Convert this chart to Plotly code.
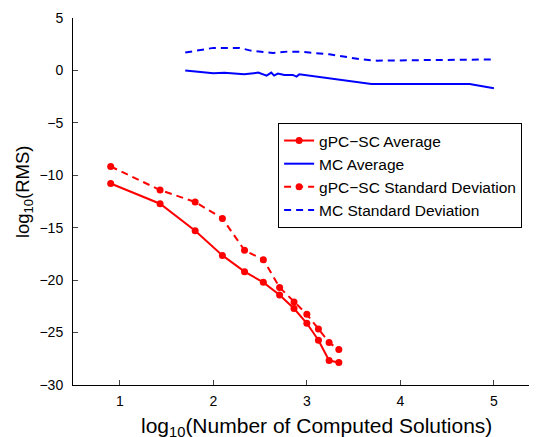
import plotly.graph_objects as go

# gPC-SC data (x = log10 of number of computed solutions)
gpc_x = [0.903, 1.431, 1.806, 2.097, 2.334, 2.535, 2.709, 2.863, 3.0, 3.124, 3.238, 3.342]
gpc_avg = [-10.78, -12.71, -15.29, -17.64, -19.19, -20.21, -21.41, -22.71, -24.11, -25.73, -27.67, -27.86]
gpc_std = [-9.16, -11.41, -12.55, -14.11, -17.16, -18.05, -20.69, -22.08, -23.26, -24.65, -25.95, -26.62]

# Monte Carlo data
mc_avg_x = [1.70, 2.0, 2.12, 2.33, 2.48, 2.53, 2.57, 2.62, 2.65, 2.69, 2.76, 2.85, 2.89, 2.92, 3.1, 3.69, 4.74, 5.0]
mc_avg = [0.0, -0.27, -0.23, -0.37, -0.21, -0.37, -0.49, -0.21, -0.49, -0.30, -0.43, -0.43, -0.59, -0.37, -0.6, -1.29, -1.29, -1.7]
mc_std_x = [1.70, 2.0, 2.28, 2.4, 2.64, 2.8, 2.96, 3.24, 3.57, 3.75, 4.1, 5.0]
mc_std = [1.70, 2.15, 2.15, 1.89, 1.67, 1.80, 1.76, 1.54, 1.07, 0.93, 0.97, 1.05]

x_ticks = [1, 2, 3, 4, 5]
y_ticks = [-30, -25, -20, -15, -10, -5, 0, 5]
x_title = "log<sub>10</sub>(Number of Computed Solutions)"
y_title = "log<sub>10</sub>(RMS)"

RED = "#ff0000"
BLUE = "#0000ff"
FONT = "Liberation Sans, Arial, Helvetica, sans-serif"

fig = go.Figure()
fig.add_trace(go.Scatter(x=gpc_x, y=gpc_avg, mode="lines+markers", name="gPC\u2212SC Average",
                         line=dict(color=RED, width=2), marker=dict(color=RED, size=7), legendgroup="a"))
fig.add_trace(go.Scatter(x=mc_avg_x, y=mc_avg, mode="lines", name="MC Average",
                         line=dict(color=BLUE, width=2), legendgroup="b"))
fig.add_trace(go.Scatter(x=gpc_x, y=gpc_std, mode="lines+markers", name="gPC\u2212SC Standard Deviation",
                         line=dict(color=RED, width=2, dash="7px,5px"), marker=dict(color=RED, size=7), legendgroup="c"))
fig.add_trace(go.Scatter(x=mc_std_x, y=mc_std, mode="lines", name="MC Standard Deviation",
                         line=dict(color=BLUE, width=2, dash="7px,5px"), legendgroup="d"))

# the page body has a default 8px margin, so the figure is sized 8px smaller
fig.update_layout(
    width=529, height=429,
    margin=dict(l=65, r=1, t=10, b=52),
    paper_bgcolor="white", plot_bgcolor="white",
    font=dict(family=FONT, size=14, color="black"),
    showlegend=True,
    legend=dict(x=0.443, y=0.714, xanchor="left", yanchor="top",
                bordercolor="black", borderwidth=1, bgcolor="white",
                font=dict(size=15.5), traceorder="grouped", tracegroupgap=0),
    xaxis=dict(range=[0.5, 5.45], tickvals=x_ticks, ticks="inside", ticklen=5, automargin=False,
               showline=True, linecolor="black", linewidth=1, showgrid=False, zeroline=False,
               ticklabelstandoff=3),
    yaxis=dict(range=[-30, 5], tickvals=y_ticks, ticks="inside", ticklen=5, automargin=False,
               showline=True, linecolor="black", linewidth=1, showgrid=False, zeroline=False,
               ticklabelstandoff=6),
    annotations=[
        dict(text=x_title, xref="paper", yref="paper", x=0.526, y=0, xanchor="center", yanchor="top",
             yshift=-27, showarrow=False, font=dict(size=21)),
        dict(text=y_title, xref="paper", yref="paper", x=0, y=0.527, xanchor="center", yanchor="middle",
             xshift=-49.5, textangle=-90, showarrow=False, font=dict(size=18.5)),
    ],
)

fig.write_html("out.html")
